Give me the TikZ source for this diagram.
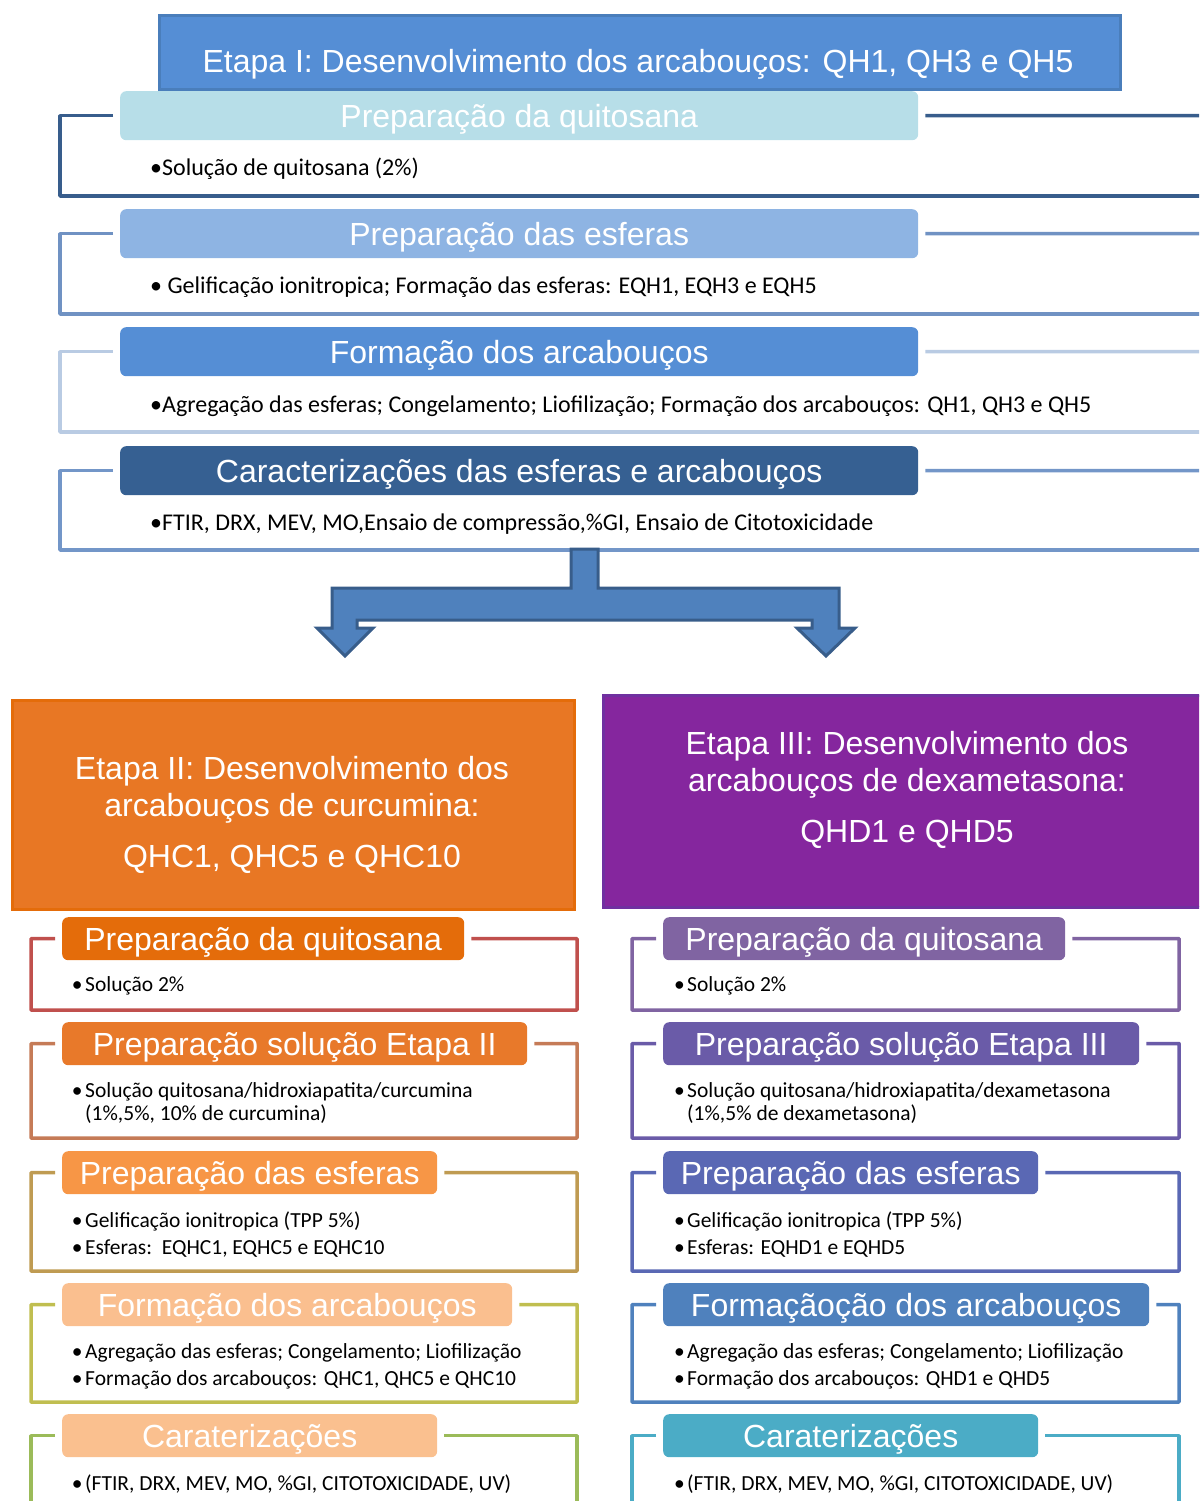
\documentclass[tikz,border=0pt]{standalone}
\usepackage{fontspec}
\setmainfont{Liberation Sans}
\newfontfamily\calib{Carlito}
\usetikzlibrary{calc}
\definecolor{hdrF}{RGB}{85,142,213}
\definecolor{hdrD}{RGB}{74,126,187}
\definecolor{tA}{RGB}{183,222,232}
\definecolor{tB}{RGB}{142,180,227}
\definecolor{tC}{RGB}{85,142,213}
\definecolor{tD}{RGB}{54,96,146}
\definecolor{fA}{RGB}{56,93,140}
\definecolor{fB}{RGB}{112,146,195}
\definecolor{fC}{RGB}{185,203,227}
\definecolor{fD}{RGB}{115,150,200}
\definecolor{arF}{RGB}{79,129,189}
\definecolor{arD}{RGB}{56,93,138}
\definecolor{e2F}{RGB}{232,119,36}
\definecolor{e2D}{RGB}{228,108,10}
\definecolor{e3F}{RGB}{133,38,158}
\definecolor{e3D}{RGB}{112,48,160}
\definecolor{L1t}{RGB}{228,108,10}
\definecolor{L1f}{RGB}{192,80,77}
\definecolor{L2t}{RGB}{232,121,42}
\definecolor{L2f}{RGB}{197,123,87}
\definecolor{L3t}{RGB}{247,150,70}
\definecolor{L3f}{RGB}{191,155,82}
\definecolor{L4t}{RGB}{250,191,143}
\definecolor{L4f}{RGB}{192,190,80}
\definecolor{L5t}{RGB}{250,192,143}
\definecolor{L5f}{RGB}{155,187,89}
\definecolor{R1t}{RGB}{128,100,162}
\definecolor{R2t}{RGB}{106,91,168}
\definecolor{R3t}{RGB}{90,104,180}
\definecolor{R4t}{RGB}{79,129,189}
\definecolor{R5t}{RGB}{75,172,198}
\begin{document}
\begin{tikzpicture}[x=1pt,y=-1pt,
  ttl/.style={rounded corners=6pt, inner sep=0pt, text=white, anchor=north west,
    font=\fontsize{32}{36}\selectfont, text depth=0pt},
  bigttl/.style={ttl, minimum height=49pt},
  colttl/.style={ttl, minimum height=43pt},
  frm/.style={line width=3.5pt, line join=round},
  topbody/.style={anchor=west, inner sep=0pt, font=\calib\fontsize{24}{28}\selectfont},
  colbody/.style={anchor=west, inner sep=0pt, align=left, font=\calib\fontsize{21.5}{23}\selectfont},
  etapa/.style={inner sep=0pt, text=white, align=center, font=\fontsize{32}{37}\selectfont}
]
\useasboundingbox (0,0) rectangle (1199,1501);
\clip (0,0) rectangle (1199,1501);

% ---------- Etapa I ----------
\node[bigttl, fill=tA, minimum width=798pt] (s1) at (120,91) {Preparação da quitosana};
\node[draw=hdrD, line width=3pt, fill=hdrF, minimum width=961pt, minimum height=74pt, inner sep=0pt, anchor=north west] (h1) at (157.5,14.5) {};
\node[text=white, inner sep=0pt, font=\fontsize{32}{36}\selectfont] (h1t) at (638,64) {Etapa I: Desenvolvimento dos arcabouços: QH1, QH3 e QH5};

\draw[frm, fA] ($(s1.west)+(-7,0)$) -| (60,196) -- (1210,196);
\draw[frm, fA] ($(s1.east)+(7,0)$) -- (1210,115.5);
\node[topbody] (b1) at (150,169) {•Solução de quitosana (2\%)};

\node[bigttl, fill=tB, minimum width=798pt] (s2) at (120,209) {Preparação das esferas};
\draw[frm, fB] ($(s2.west)+(-7,0)$) -| (60,314) -- (1210,314);
\draw[frm, fB] ($(s2.east)+(7,0)$) -- (1210,233.5);
\node[topbody] (b2) at (150,287) {• Gelificação ionitropica; Formação das esferas: EQH1, EQH3 e EQH5};

\node[bigttl, fill=tC, minimum width=798pt] (s3) at (120,327) {Formação dos arcabouços};
\draw[frm, fC] ($(s3.west)+(-7,0)$) -| (60,432) -- (1210,432);
\draw[frm, fC] ($(s3.east)+(7,0)$) -- (1210,351.5);
\node[topbody] (b3) at (150,406) {•Agregação das esferas; Congelamento; Liofilização; Formação dos arcabouços: QH1, QH3 e QH5};

\node[bigttl, fill=tD, minimum width=798pt] (s4) at (120,446) {Caracterizações das esferas e arcabouços};
\draw[frm, fD] ($(s4.west)+(-7,0)$) -| (60,550) -- (1210,550);
\draw[frm, fD] ($(s4.east)+(7,0)$) -- (1210,470.5);
\node[topbody] (b4) at (150,524) {•FTIR, DRX, MEV, MO,Ensaio de compressão,\%GI, Ensaio de Citotoxicidade};

% ---------- split arrow ----------
\draw[fill=arF, draw=arD, line width=3pt, line join=miter]
  (571,549) -- (571,588) -- (332,588) -- (332,628) -- (317,628) -- (345,656)
  -- (373,628) -- (357,628) -- (357,620) -- (812,620) -- (812,628) -- (797,628)
  -- (826,656) -- (855,628) -- (839,628) -- (839,588) -- (598,588) -- (598,549) -- cycle;

% ---------- Etapa II / III headers ----------
\node[draw=e2D, line width=3pt, fill=e2F, minimum width=562pt, minimum height=209pt, inner sep=0pt, anchor=north west] (e2) at (10.5,698.5) {};
\node[etapa] (e2t) at (292,815) {Etapa II: Desenvolvimento dos\\arcabouços de curcumina:\\[14pt]QHC1, QHC5 e QHC10};
\node[draw=e3D, line width=3pt, fill=e3F, minimum width=620pt, minimum height=212pt, inner sep=0pt, anchor=north west] (e3) at (601.5,693.5) {};
\node[etapa] (e3t) at (907,789.5) {Etapa III: Desenvolvimento dos\\arcabouços de dexametasona:\\[14pt]QHD1 e QHD5};

% ---------- Left column ----------
\node[colttl, fill=L1t, minimum width=402pt] (l1) at (62,917) {Preparação da quitosana};
\draw[frm, L1f] ($(l1.west)+(-7,0)$) -| (31,1010) -| (577,938.5) -- ($(l1.east)+(7,0)$);
\node[colbody] (lb1) at (85,986) {\llap{•\hspace{2.5pt}}Solução 2\%};

\node[colttl, fill=L2t, minimum width=465pt] (l2) at (62,1022) {Preparação solução Etapa II};
\draw[frm, L2f] ($(l2.west)+(-7,0)$) -| (31,1138) -| (577,1043.5) -- ($(l2.east)+(7,0)$);
\node[colbody] (lb2) at (85,1103.5) {\llap{•\hspace{2.5pt}}Solução quitosana/hidroxiapatita/curcumina\\(1\%,5\%, 10\% de curcumina)};

\node[colttl, fill=L3t, minimum width=375pt] (l3) at (62,1151) {Preparação das esferas};
\draw[frm, L3f] ($(l3.west)+(-7,0)$) -| (31,1271) -| (577,1172.5) -- ($(l3.east)+(7,0)$);
\node[colbody] (lb3) at (85,1234.5) {\llap{•\hspace{2.5pt}}Gelificação ionitropica (TPP 5\%)\\[4pt]\llap{•\hspace{2.5pt}}Esferas:\ \ EQHC1, EQHC5 e EQHC10};

\node[colttl, fill=L4t, minimum width=450pt] (l4) at (62,1283) {Formação dos arcabouços};
\draw[frm, L4f] ($(l4.west)+(-7,0)$) -| (31,1402) -| (577,1304.5) -- ($(l4.east)+(7,0)$);
\node[colbody] (lb4) at (85,1366.5) {\llap{•\hspace{2.5pt}}Agregação das esferas; Congelamento; Liofilização\\[4pt]\llap{•\hspace{2.5pt}}Formação dos arcabouços: QHC1, QHC5 e QHC10};

\node[colttl, fill=L5t, minimum width=375pt] (l5) at (62,1414) {Caraterizações};
\draw[frm, L5f] ($(l5.west)+(-7,0)$) -| (31,1520);
\draw[frm, L5f] ($(l5.east)+(7,0)$) -| (577,1520);
\node[colbody] (lb5) at (85,1484) {\llap{•\hspace{2.5pt}}(FTIR, DRX, MEV, MO, \%GI, CITOTOXICIDADE, UV)};

% ---------- Right column ----------
\node[colttl, fill=R1t, minimum width=402pt] (r1) at (663,917) {Preparação da quitosana};
\draw[frm, R1t] ($(r1.west)+(-7,0)$) -| (632,1010) -| (1179,938.5) -- ($(r1.east)+(7,0)$);
\node[colbody] (rb1) at (687,986) {\llap{•\hspace{2.5pt}}Solução 2\%};

\node[colttl, fill=R2t, minimum width=476pt] (r2) at (663,1022) {Preparação solução Etapa III};
\draw[frm, R2t] ($(r2.west)+(-7,0)$) -| (632,1138) -| (1179,1043.5) -- ($(r2.east)+(7,0)$);
\node[colbody] (rb2) at (687,1103.5) {\llap{•\hspace{2.5pt}}Solução quitosana/hidroxiapatita/dexametasona\\(1\%,5\% de dexametasona)};

\node[colttl, fill=R3t, minimum width=375pt] (r3) at (663,1151) {Preparação das esferas};
\draw[frm, R3t] ($(r3.west)+(-7,0)$) -| (632,1271) -| (1179,1172.5) -- ($(r3.east)+(7,0)$);
\node[colbody] (rb3) at (687,1234.5) {\llap{•\hspace{2.5pt}}Gelificação ionitropica (TPP 5\%)\\[4pt]\llap{•\hspace{2.5pt}}Esferas: EQHD1 e EQHD5};

\node[colttl, fill=R4t, minimum width=486pt] (r4) at (663,1283) {Formaçãoção dos arcabouços};
\draw[frm, R4t] ($(r4.west)+(-7,0)$) -| (632,1402) -| (1179,1304.5) -- ($(r4.east)+(7,0)$);
\node[colbody] (rb4) at (687,1366.5) {\llap{•\hspace{2.5pt}}Agregação das esferas; Congelamento; Liofilização\\[4pt]\llap{•\hspace{2.5pt}}Formação dos arcabouços: QHD1 e QHD5};

\node[colttl, fill=R5t, minimum width=375pt] (r5) at (663,1414) {Caraterizações};
\draw[frm, R5t] ($(r5.west)+(-7,0)$) -| (632,1520);
\draw[frm, R5t] ($(r5.east)+(7,0)$) -| (1179,1520);
\node[colbody] (rb5) at (687,1484) {\llap{•\hspace{2.5pt}}(FTIR, DRX, MEV, MO, \%GI, CITOTOXICIDADE, UV)};
\end{tikzpicture}
\end{document}
